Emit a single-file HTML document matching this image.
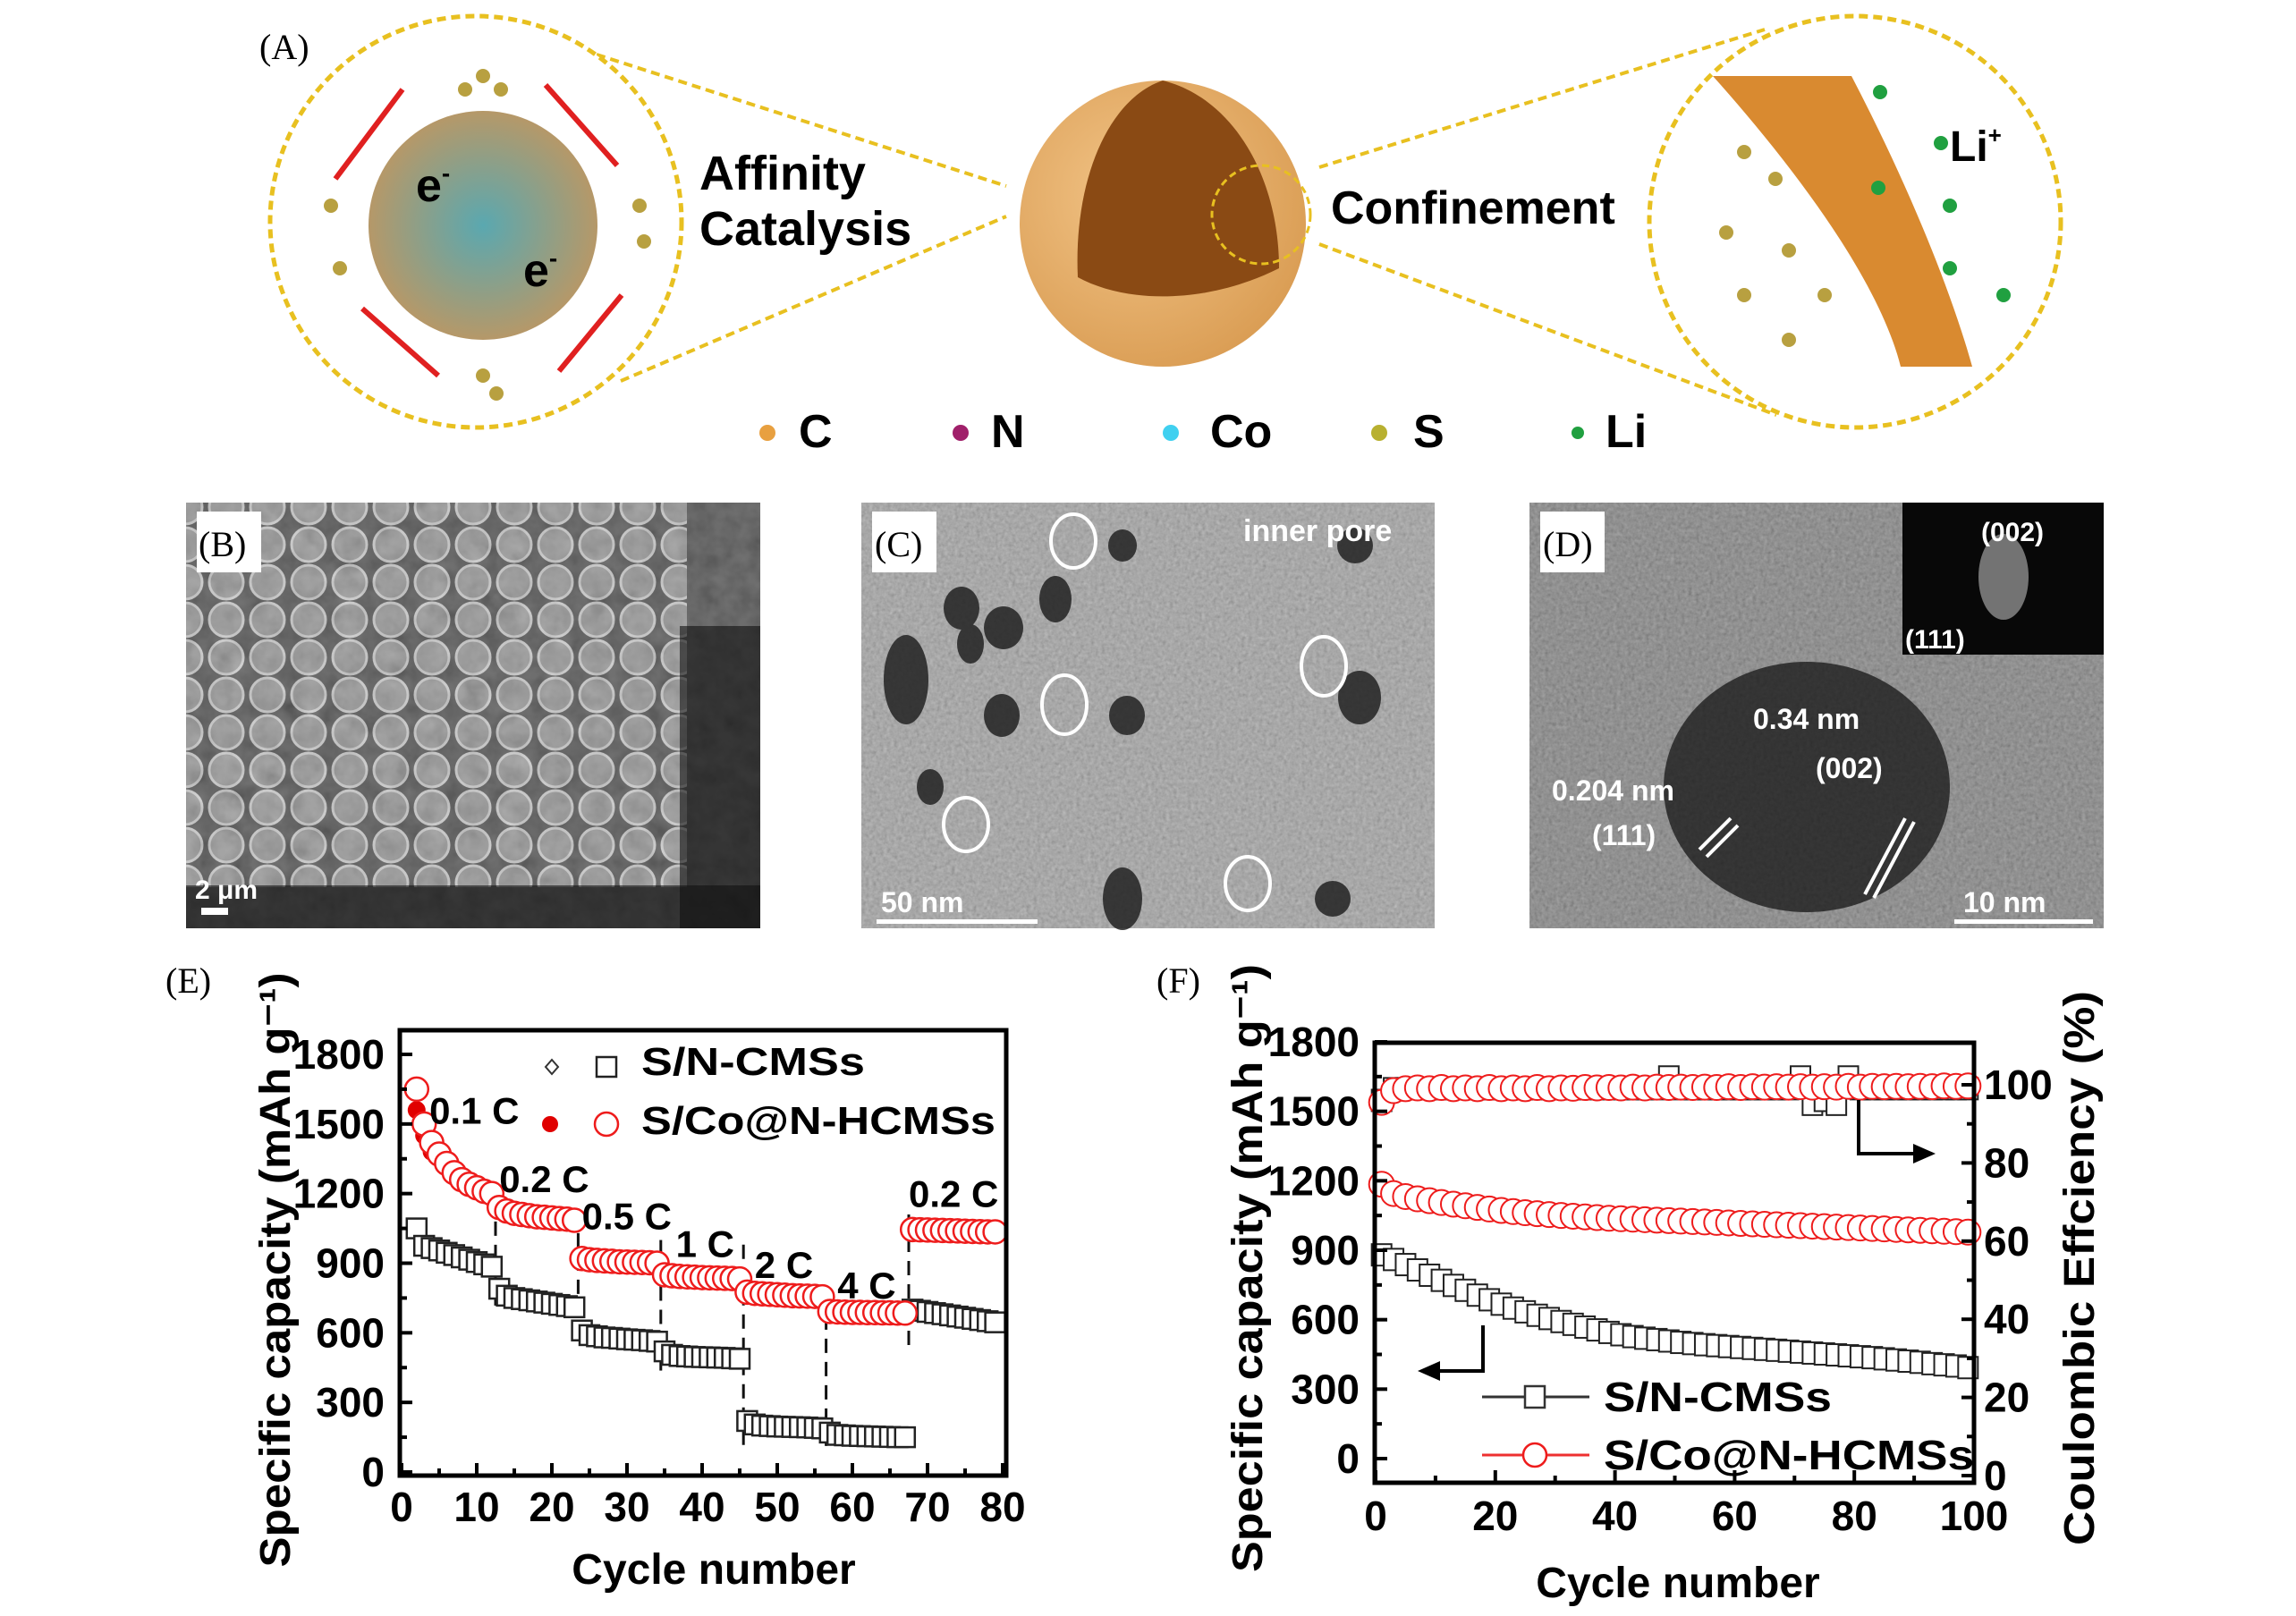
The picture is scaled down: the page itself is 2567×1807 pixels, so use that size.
<!DOCTYPE html>
<html><head><meta charset="utf-8"><style>
html,body{margin:0;padding:0;background:#fff}
svg{display:block}
text{font-family:"Liberation Sans",sans-serif}
.b{font-weight:bold}
</style></head><body>
<svg id="fig" xmlns="http://www.w3.org/2000/svg" width="2567" height="1807" viewBox="0 0 2567 1807">
<defs>
<filter id="noiseB" x="0" y="0" width="1" height="1"><feTurbulence type="fractalNoise" baseFrequency="0.05" numOctaves="3" seed="3"/><feColorMatrix type="matrix" values="0.33 0.33 0.33 0 0 0.33 0.33 0.33 0 0 0.33 0.33 0.33 0 0 0 0 0 0 1"/><feComponentTransfer><feFuncA type="table" tableValues="0.35 0.35"/></feComponentTransfer></filter>
<filter id="noiseC" x="0" y="0" width="1" height="1"><feTurbulence type="fractalNoise" baseFrequency="0.25" numOctaves="2" seed="5"/><feColorMatrix type="matrix" values="0.33 0.33 0.33 0 0 0.33 0.33 0.33 0 0 0.33 0.33 0.33 0 0 0 0 0 0 1"/><feComponentTransfer><feFuncA type="table" tableValues="0.45 0.45"/></feComponentTransfer></filter>
<radialGradient id="sphereG" cx="0.4" cy="0.4" r="0.7"><stop offset="0" stop-color="#f2c487"/><stop offset="1" stop-color="#d89a50"/></radialGradient>
<radialGradient id="innerG" cx="0.5" cy="0.5" r="0.6"><stop offset="0" stop-color="#5aa8b0"/><stop offset="1" stop-color="#c8955a"/></radialGradient>
<pattern id="balls" x="0" y="0" width="46" height="42" patternUnits="userSpaceOnUse"><circle cx="23" cy="21" r="19" fill="#8a8a8a" stroke="#c8c8c8" stroke-width="3"/></pattern>
</defs>

<!-- PANEL A -->
<g>
<text x="290" y="66" font-size="40" style="font-family:'Liberation Serif',serif">(A)</text>
<line x1="667" y1="61" x2="1125" y2="208" stroke="#e8c020" stroke-width="4" stroke-dasharray="10,6"/>
<line x1="694" y1="426" x2="1125" y2="242" stroke="#e8c020" stroke-width="4" stroke-dasharray="10,6"/>
<line x1="1475" y1="187" x2="1973" y2="33" stroke="#e8c020" stroke-width="4" stroke-dasharray="10,6"/>
<line x1="1475" y1="273" x2="1986" y2="464" stroke="#e8c020" stroke-width="4" stroke-dasharray="10,6"/>
<circle cx="532" cy="248" r="230" fill="#fff" stroke="#e8c020" stroke-width="5" stroke-dasharray="10,6"/>
<circle cx="540" cy="252" r="128" fill="url(#innerG)"/>
<text x="465" y="225" class="b" font-size="52">e<tspan font-size="28" dy="-22">-</tspan></text>
<text x="585" y="320" class="b" font-size="52">e<tspan font-size="28" dy="-22">-</tspan></text>
<g stroke="#e02020" stroke-width="6" fill="none">
<path d="M375 200 L450 100"/><path d="M610 95 L690 185"/><path d="M695 330 L625 415"/><path d="M405 345 L490 420"/>
</g>
<g fill="#b8a040"><circle cx="540" cy="85" r="8"/><circle cx="560" cy="100" r="8"/><circle cx="520" cy="100" r="8"/><circle cx="715" cy="230" r="8"/><circle cx="720" cy="270" r="8"/><circle cx="370" cy="230" r="8"/><circle cx="380" cy="300" r="8"/><circle cx="540" cy="420" r="8"/><circle cx="555" cy="440" r="8"/></g>
<text x="782" y="212" class="b" font-size="54">Affinity</text>
<text x="782" y="274" class="b" font-size="54">Catalysis</text>
<circle cx="1300" cy="250" r="160" fill="url(#sphereG)"/>
<path d="M1300 90 C1240 110 1200 200 1205 310 C1260 340 1350 340 1430 300 C1430 200 1380 110 1300 90 Z" fill="#8a4a14"/>
<circle cx="1410" cy="240" r="55" fill="none" stroke="#e8c020" stroke-width="3" stroke-dasharray="8,5"/>
<text x="1488" y="250" class="b" font-size="52">Confinement</text>
<circle cx="2074" cy="248" r="230" fill="#fff" stroke="#e8c020" stroke-width="5" stroke-dasharray="10,6"/>
<path d="M1915 85 L2070 85 C2130 200 2180 320 2205 410 L2125 410 C2100 310 2000 180 1915 85 Z" fill="#d98a30"/>
<text x="2180" y="180" class="b" font-size="48">Li<tspan font-size="26" dy="-20">+</tspan></text>
<g fill="#20a040"><circle cx="2102" cy="103" r="8"/><circle cx="2170" cy="160" r="8"/><circle cx="2100" cy="210" r="8"/><circle cx="2180" cy="230" r="8"/><circle cx="2240" cy="330" r="8"/><circle cx="2180" cy="300" r="8"/></g>
<g fill="#b8a040"><circle cx="1950" cy="170" r="8"/><circle cx="1985" cy="200" r="8"/><circle cx="1930" cy="260" r="8"/><circle cx="2000" cy="280" r="8"/><circle cx="1950" cy="330" r="8"/><circle cx="2000" cy="380" r="8"/><circle cx="2040" cy="330" r="8"/></g>
<g>
<circle cx="858" cy="484" r="9" fill="#e8a040"/><text x="893" y="500" class="b" font-size="52">C</text>
<circle cx="1074" cy="484" r="9" fill="#a0206a"/><text x="1108" y="500" class="b" font-size="52">N</text>
<circle cx="1309" cy="484" r="9" fill="#40d0f0"/><text x="1353" y="500" class="b" font-size="52">Co</text>
<circle cx="1542" cy="484" r="9" fill="#b8b030"/><text x="1580" y="500" class="b" font-size="52">S</text>
<circle cx="1764" cy="484" r="7" fill="#20a040"/><text x="1795" y="500" class="b" font-size="52">Li</text>
</g>
</g>

<!-- PANELS B C D -->
<g>
<rect x="208" y="562" width="642" height="476" fill="#3a3a3a"/>
<rect x="208" y="562" width="560" height="430" fill="url(#balls)"/>
<rect x="208" y="562" width="642" height="476" filter="url(#noiseB)"/>
<rect x="760" y="700" width="90" height="338" fill="#111" opacity="0.6"/>
<rect x="208" y="990" width="642" height="48" fill="#111" opacity="0.6"/>
<rect x="220" y="572" width="72" height="68" fill="#fff"/>
<text x="222" y="622" font-size="40" style="font-family:'Liberation Serif',serif">(B)</text>
<text x="218" y="1005" class="b" font-size="30" fill="#fff">2 μm</text>
<rect x="225" y="1015" width="30" height="8" fill="#fff"/>
</g>
<g>
<rect x="963" y="562" width="641" height="476" fill="#989898"/>
<rect x="963" y="562" width="641" height="476" filter="url(#noiseC)"/>
<g fill="#222" opacity="0.85"><ellipse cx="1075" cy="680" rx="20" ry="24"/><ellipse cx="1122" cy="702" rx="22" ry="24"/><ellipse cx="1180" cy="670" rx="18" ry="26"/><ellipse cx="1013" cy="760" rx="25" ry="50"/><ellipse cx="1120" cy="800" rx="20" ry="24"/><ellipse cx="1260" cy="800" rx="20" ry="22"/><ellipse cx="1085" cy="720" rx="15" ry="22"/><ellipse cx="1520" cy="780" rx="24" ry="30"/><ellipse cx="1515" cy="610" rx="20" ry="20"/><ellipse cx="1255" cy="610" rx="16" ry="18"/><ellipse cx="1255" cy="1005" rx="22" ry="35"/><ellipse cx="1490" cy="1005" rx="20" ry="20"/><ellipse cx="1040" cy="880" rx="15" ry="20"/></g>
<g fill="none" stroke="#fff" stroke-width="4"><ellipse cx="1200" cy="605" rx="25" ry="30"/><ellipse cx="1190" cy="788" rx="25" ry="33"/><ellipse cx="1480" cy="745" rx="25" ry="33"/><ellipse cx="1080" cy="922" rx="25" ry="30"/><ellipse cx="1395" cy="988" rx="25" ry="30"/></g>
<rect x="975" y="572" width="72" height="68" fill="#fff"/>
<text x="978" y="622" font-size="40" style="font-family:'Liberation Serif',serif">(C)</text>
<text x="1390" y="605" class="b" font-size="34" fill="#fff">inner pore</text>
<text x="985" y="1020" class="b" font-size="32" fill="#fff">50 nm</text>
<rect x="980" y="1028" width="180" height="5" fill="#fff"/>
</g>
<g>
<rect x="1710" y="562" width="642" height="476" fill="#6e6e6e"/>
<rect x="1710" y="562" width="642" height="476" filter="url(#noiseC)"/>
<ellipse cx="2020" cy="880" rx="160" ry="140" fill="#151515" opacity="0.75"/>
<rect x="2127" y="562" width="225" height="170" fill="#080808"/>
<ellipse cx="2240" cy="645" rx="28" ry="48" fill="#bbb" opacity="0.6"/>
<text x="2215" y="605" class="b" font-size="30" fill="#fff">(002)</text>
<text x="2130" y="725" class="b" font-size="30" fill="#fff">(111)</text>
<rect x="1722" y="572" width="72" height="68" fill="#fff"/>
<text x="1725" y="622" font-size="40" style="font-family:'Liberation Serif',serif">(D)</text>
<text x="1960" y="815" class="b" font-size="32" fill="#fff">0.34 nm</text>
<text x="2030" y="870" class="b" font-size="32" fill="#fff">(002)</text>
<text x="1735" y="895" class="b" font-size="32" fill="#fff">0.204 nm</text>
<text x="1780" y="945" class="b" font-size="32" fill="#fff">(111)</text>
<g stroke="#fff" stroke-width="4"><line x1="1900" y1="950" x2="1935" y2="915"/><line x1="1908" y1="958" x2="1943" y2="923"/><line x1="2085" y1="1000" x2="2130" y2="915"/><line x1="2095" y1="1004" x2="2140" y2="919"/></g>
<text x="2195" y="1020" class="b" font-size="32" fill="#fff">10 nm</text>
<rect x="2185" y="1028" width="155" height="5" fill="#fff"/>
</g>

<text x="185" y="1110" font-size="40" style="font-family:'Liberation Serif',serif">(E)</text>
<text x="1293" y="1110" font-size="40" style="font-family:'Liberation Serif',serif">(F)</text>

<g id="chartE"></g>
<g id="chartF"></g>
</svg>
<script>
// ===== Chart E data =====
const cyclesE = [2,3,4,5,6,7,8,9,10,11,12,13,14,15,16,17,18,19,20,21,22,23,24,25,26,27,28,29,30,31,32,33,34,35,36,37,38,39,40,41,42,43,44,45,46,47,48,49,50,51,52,53,54,55,56,57,58,59,60,61,62,63,64,65,66,67,68,69,70,71,72,73,74,75,76,77,78,79];
const capRedE = [1650,1500,1420,1370,1330,1290,1260,1240,1225,1210,1200,
 1140,1125,1115,1110,1105,1100,1098,1095,1092,1090,1085,
 920,915,912,910,908,906,905,904,903,902,900,
 850,846,843,841,840,838,837,836,835,834,832,
 775,770,768,766,764,762,760,759,758,757,755,
 692,690,689,688,688,687,687,686,686,685,685,
 1045,1044,1043,1042,1041,1040,1039,1038,1037,1036,1035,1035];
const capBlackE = [1050,975,965,955,945,935,925,915,905,895,885,
 790,760,750,745,740,735,730,725,720,715,710,
 610,590,585,580,578,575,572,570,568,565,562,
 520,505,500,498,496,495,494,493,492,490,488,
 220,205,200,198,196,195,194,193,192,190,188,
 170,160,158,156,155,154,153,152,151,150,150,
 700,695,690,685,680,675,670,665,660,655,650,645];
const filledCycE = [2,3,4];
const filledRedE = [1560,1450,1380];
const rateBoundsE = [12.5,23.5,34.5,45.5,56.5,67.5];
const dashTopE = [1180,1130,1000,980,775,1110];
const dashBottomE = [700,600,410,110,80,520];
const rateLabelsE = ["0.1 C","0.2 C","0.5 C","1 C","2 C","4 C","0.2 C"];
const rateLabelCycE = [3.7,13,24,36.5,47,58,67.5];
const rateLabelValE = [1560,1265,1105,985,895,805,1200];
const xTicksE = [0,10,20,30,40,50,60,70,80];
const yTicksE = [0,300,600,900,1200,1500,1800];

// ===== Chart F data =====
const cyclesF = [1,3,5,7,9,11,13,15,17,19,21,23,25,27,29,31,33,35,37,39,41,43,45,47,49,51,53,55,57,59,61,63,65,67,69,71,73,75,77,79,81,83,85,87,89,91,93,95,97,99];
const capBlackF = [880,860,838,815,792,770,748,727,706,686,667,650,634,619,605,592,580,568,556,545,535,527,520,514,508,502,497,492,488,484,480,476,472,468,464,460,456,452,448,444,440,436,431,426,421,416,410,405,400,393];
const capRedF = [1185,1145,1132,1122,1114,1106,1099,1092,1085,1078,1072,1067,1062,1058,1054,1050,1047,1044,1041,1038,1036,1034,1032,1030,1028,1026,1024,1022,1020,1018,1016,1014,1012,1010,1008,1006,1004,1002,1000,998,996,994,992,990,988,986,984,982,980,978];
const ceBlackF = [96,99,99,99,99,99,99,99,99,99,99,99,99,99,99,99,99,99,99,99,99,99,99,99,102,99,99,99,99,99,99,99,99,99,99,102,95,96,95,102,99,99,99,99,99,99,99,99,99,99];
const ceRedF = [95.5,98.5,99,99.2,99,99.3,99,99.2,99,99.3,99,99.2,99,99.3,99,99.2,99.1,99.3,99.2,99.3,99.2,99.4,99.2,99.4,99.3,99.4,99.3,99.4,99.3,99.5,99.3,99.5,99.4,99.5,99.4,99.5,99.4,99.5,99.4,99.6,99.4,99.6,99.5,99.6,99.5,99.6,99.5,99.7,99.6,99.7];
const xTicksF = [0,20,40,60,80,100];
const yTicksF = [0,300,600,900,1200,1500,1800];
const yTicksRF = [0,20,40,60,80,100];

const NS = "http://www.w3.org/2000/svg";
function mk(tag, attrs, parent) {
  const el = document.createElementNS(NS, tag);
  for (const k in attrs) el.setAttribute(k, attrs[k]);
  parent.appendChild(el);
  return el;
}

// ---------- Chart E ----------
(function(){
  const g = document.getElementById('chartE');
  const L=447, R=1125, T=1152, B=1650;
  const xE = c => 449 + c*(1121-449)/80;
  const yE = v => 1646 - v*(1646-1179)/1800;
  rateBoundsE.forEach((c,i)=>{
    const ln = mk('line',{x1:xE(c),x2:xE(c),y1:yE(dashTopE[i]),y2:yE(dashBottomE[i]),stroke:'#111','stroke-width':3,'stroke-dasharray':'16,10'},g);
    
    
  });
  cyclesE.forEach((c,i)=>{
    const s = mk('rect',{x:xE(c)-11,y:yE(capBlackE[i])-11,width:22,height:22,fill:'#fff',stroke:'#222','stroke-width':2.5},g);
    
    
  });
  filledCycE.forEach((c,i)=>{
    const d = mk('circle',{cx:xE(c),cy:yE(filledRedE[i]),r:10,fill:'#e00000'},g);
    
    
  });
  cyclesE.forEach((c,i)=>{
    const o = mk('circle',{cx:xE(c),cy:yE(capRedE[i]),r:13,fill:'#fff',stroke:'#ee1c1c','stroke-width':2.5},g);
    
    
  });
  rateLabelsE.forEach((t,i)=>{
    const tx = mk('text',{x:xE(rateLabelCycE[i]),y:yE(rateLabelValE[i])+15,'font-size':42,'font-weight':'bold'},g);
    tx.textContent = t;
    
    
  });
  const fr = mk('rect',{x:L,y:T,width:R-L,height:B-T,fill:'none',stroke:'#000','stroke-width':5},g);
  
  
  xTicksE.forEach(v=>{
    mk('line',{x1:xE(v),x2:xE(v),y1:B,y2:B-14,stroke:'#000','stroke-width':4},g);
    if (v<80) mk('line',{x1:xE(v+5),x2:xE(v+5),y1:B,y2:B-8,stroke:'#000','stroke-width':4},g);
    const t = mk('text',{x:xE(v),y:1701,'text-anchor':'middle','font-size':46,'font-weight':'bold'},g);
    t.textContent = v;
    
    
  });
  yTicksE.forEach(v=>{
    mk('line',{x1:L,x2:L+14,y1:yE(v),y2:yE(v),stroke:'#000','stroke-width':4},g);
    if (v<1800) mk('line',{x1:L,x2:L+8,y1:yE(v+150),y2:yE(v+150),stroke:'#000','stroke-width':4},g);
    const t = mk('text',{x:430,y:yE(v)+16,'text-anchor':'end','font-size':46,'font-weight':'bold'},g);
    t.textContent = v;
    
    
  });
  const xt = mk('text',{x:798,y:1771,'text-anchor':'middle','font-size':48,'font-weight':'bold'},g);
  xt.textContent='Cycle number';
  
  
  const yt = mk('text',{x:0,y:0,'text-anchor':'middle','font-size':48,'font-weight':'bold',transform:'translate(324,1420) rotate(-90)',textLength:665,lengthAdjust:'spacingAndGlyphs'},g);
  yt.textContent='Specific capacity (mAh g⁻¹)';
  
  
  const lg = mk('g',{},g);
  
  
  mk('path',{d:'M617 1185 L624 1193 L617 1201 L610 1193 Z',fill:'none',stroke:'#333','stroke-width':2},lg);
  mk('rect',{x:667,y:1182,width:22,height:22,fill:'#fff',stroke:'#222','stroke-width':2.5},lg);
  const l1 = mk('text',{x:717,y:1202,'font-size':44,'font-weight':'bold',textLength:250,lengthAdjust:'spacingAndGlyphs'},lg);
  l1.textContent='S/N-CMSs';
  
  
  mk('circle',{cx:615,cy:1257,r:9,fill:'#e00000'},lg);
  mk('circle',{cx:678,cy:1257,r:13,fill:'#fff',stroke:'#ee1c1c','stroke-width':2.5},lg);
  const l2 = mk('text',{x:717,y:1268,'font-size':44,'font-weight':'bold',textLength:396,lengthAdjust:'spacingAndGlyphs'},lg);
  l2.textContent='S/Co@N-HCMSs';
  
  
})();

// ---------- Chart F ----------
(function(){
  const g = document.getElementById('chartF');
  const L=1537, R=2207, T=1166, B=1658;
  const xF = c => 1538 + c*(2207-1538)/100;
  const yF = v => 1631 - v*(1631-1165)/1800;
  const yR = p => 1650 - p*(1650-1213)/100;
  cyclesF.forEach((c,i)=>{
    const s = mk('rect',{x:xF(c)-11,y:yR(ceBlackF[i])-12,width:22,height:24,fill:'#fff',stroke:'#222','stroke-width':2},g);
    
    
  });
  cyclesF.forEach((c,i)=>{
    const o = mk('circle',{cx:xF(c),cy:yR(ceRedF[i]),r:14,fill:'#fff',stroke:'#ee1c1c','stroke-width':2},g);
    
    
  });
  cyclesF.forEach((c,i)=>{
    const s = mk('rect',{x:xF(c)-11,y:yF(capBlackF[i])-12,width:22,height:24,fill:'#fff',stroke:'#222','stroke-width':2},g);
    
    
  });
  cyclesF.forEach((c,i)=>{
    const o = mk('circle',{cx:xF(c),cy:yF(capRedF[i]),r:14,fill:'#fff',stroke:'#ee1c1c','stroke-width':2},g);
    
    
  });
  const a1 = mk('path',{d:'M1658 1482 L1658 1533 L1600 1533',fill:'none',stroke:'#000','stroke-width':4},g);
  
  
  mk('path',{d:'M1585 1533 L1610 1522 L1610 1544 Z',fill:'#000'},g);
  const a2 = mk('path',{d:'M2078 1230 L2078 1290 L2150 1290',fill:'none',stroke:'#000','stroke-width':4},g);
  
  
  mk('path',{d:'M2164 1290 L2139 1279 L2139 1301 Z',fill:'#000'},g);
  const fr = mk('rect',{x:L,y:T,width:R-L,height:B-T,fill:'none',stroke:'#000','stroke-width':5},g);
  
  
  xTicksF.forEach(v=>{
    mk('line',{x1:xF(v),x2:xF(v),y1:B,y2:B-14,stroke:'#000','stroke-width':4},g);
    if (v<100) mk('line',{x1:xF(v+10),x2:xF(v+10),y1:B,y2:B-8,stroke:'#000','stroke-width':4},g);
    const t = mk('text',{x:xF(v),y:1711,'text-anchor':'middle','font-size':46,'font-weight':'bold'},g);
    t.textContent = v;
    
    
  });
  yTicksF.forEach(v=>{
    mk('line',{x1:L,x2:L+14,y1:yF(v),y2:yF(v),stroke:'#000','stroke-width':4},g);
    if (v<1800) mk('line',{x1:L,x2:L+8,y1:yF(v+150),y2:yF(v+150),stroke:'#000','stroke-width':4},g);
    const t = mk('text',{x:1520,y:yF(v)+16,'text-anchor':'end','font-size':46,'font-weight':'bold'},g);
    t.textContent = v;
    
    
  });
  yTicksRF.forEach(v=>{
    mk('line',{x1:R,x2:R-14,y1:yR(v),y2:yR(v),stroke:'#000','stroke-width':4},g);
    if (v<100) mk('line',{x1:R,x2:R-8,y1:yR(v+10),y2:yR(v+10),stroke:'#000','stroke-width':4},g);
    const t = mk('text',{x:2218,y:yR(v)+16,'font-size':46,'font-weight':'bold'},g);
    t.textContent = v;
    
    
  });
  const xt = mk('text',{x:1876,y:1786,'text-anchor':'middle','font-size':48,'font-weight':'bold'},g);
  xt.textContent='Cycle number';
  
  
  const yt = mk('text',{x:0,y:0,'text-anchor':'middle','font-size':48,'font-weight':'bold',transform:'translate(1411,1418) rotate(-90)',textLength:680,lengthAdjust:'spacingAndGlyphs'},g);
  yt.textContent='Specific capacity (mAh g⁻¹)';
  
  
  const yt2 = mk('text',{x:0,y:0,'text-anchor':'middle','font-size':48,'font-weight':'bold',transform:'translate(2341,1418) rotate(-90)',textLength:620,lengthAdjust:'spacingAndGlyphs'},g);
  yt2.textContent='Coulombic Effciency (%)';
  
  
  const lg = mk('g',{},g);
  
  
  mk('line',{x1:1657,x2:1777,y1:1562,y2:1562,stroke:'#333','stroke-width':3},lg);
  mk('rect',{x:1705,y:1550,width:22,height:24,fill:'#fff',stroke:'#333','stroke-width':2.5},lg);
  const l1 = mk('text',{x:1793,y:1578,'font-size':46,'font-weight':'bold',textLength:255,lengthAdjust:'spacingAndGlyphs'},lg);
  l1.textContent='S/N-CMSs';
  
  
  mk('line',{x1:1657,x2:1777,y1:1627,y2:1627,stroke:'#ee3030','stroke-width':3},lg);
  mk('circle',{cx:1716,cy:1627,r:13,fill:'#fff',stroke:'#ee1c1c','stroke-width':2.5},lg);
  const l2 = mk('text',{x:1793,y:1643,'font-size':46,'font-weight':'bold',textLength:414,lengthAdjust:'spacingAndGlyphs'},lg);
  l2.textContent='S/Co@N-HCMSs';
  
  
})();
</script>
</body></html>
